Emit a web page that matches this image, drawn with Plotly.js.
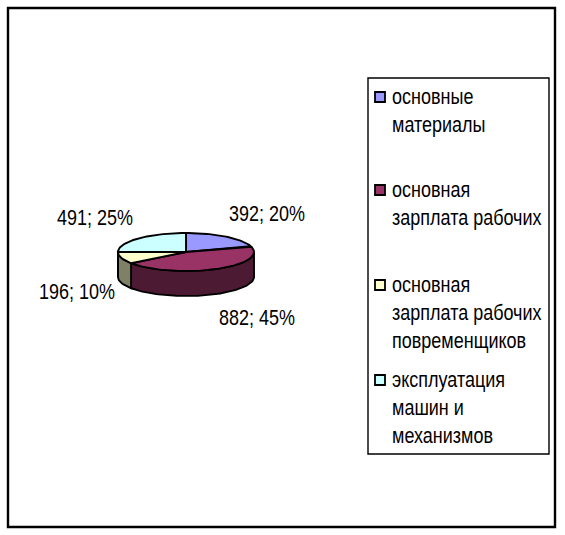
<!DOCTYPE html>
<html>
<head>
<meta charset="utf-8">
<script src="https://cdn.plot.ly/plotly-3.0.1.min.js"></script>
<style>
  html, body { margin: 0; padding: 0; background: #ffffff; }
  #chart { width: 565px; height: 535px; }
  /* tall, narrow lettering */
  #chart text.annotation-text {
    transform-box: fill-box;
    transform-origin: center;
    transform: scaleY(1.22);
  }
</style>
</head>
<body>
<div id="chart"></div>
<script>
// Cost structure: category names (wrapped as in the legend) and amounts
const categories = [
  'основные\nматериалы',
  'основная\nзарплата рабочих',
  'основная\nзарплата рабочих\nповременщиков',
  'эксплуатация\nмашин и\nмеханизмов'
];
const values = [392, 882, 196, 491];
const topColors = ['#9999FF', '#993366', '#FFFFCC', '#CCFFFF'];
const sideColors = ['#4C4C80', '#4D1A33', '#808066', '#668080'];

// Pie geometry (pixel space, y grows downward)
const pie = { cx: 186, cy: 252, a: 68, b: 19, depth: 25 };
// Label anchor points for each slice
const labelPos = [[267, 214], [257, 318], [77, 292], [95, 218]];
// Legend layout
const legendTop = [97, 190, 285, 380];
const legendLineStep = 28;

const FONT = '"Liberation Sans", Arial, sans-serif';
const total = values.reduce((s, v) => s + v, 0);

function pt(thetaDeg, dy) {
  const t = thetaDeg * Math.PI / 180;
  return [pie.cx + pie.a * Math.sin(t), pie.cy - pie.b * Math.cos(t) + (dy || 0)];
}
function arc(t1, t2, dy) {
  const n = Math.max(2, Math.ceil(Math.abs(t2 - t1) / 2));
  const pts = [];
  for (let i = 0; i <= n; i++) pts.push(pt(t1 + (t2 - t1) * i / n, dy));
  return pts;
}

const traces = [];
const annotations = [];
const outline = { color: '#000000', width: 1.9 };

// slice angle spans, clockwise from 12 o'clock
let acc = 0;
const spans = values.map(v => {
  const s = acc / total * 360;
  acc += v;
  return [s, acc / total * 360];
});

// outer walls on the front half (90°..270°)
spans.forEach(([s, e], i) => {
  const ws = Math.max(s, 90), we = Math.min(e, 270);
  if (we <= ws) return;
  const pts = arc(ws, we, 0).concat(arc(we, ws, pie.depth));
  pts.push(pts[0]);
  traces.push({
    type: 'scatter', mode: 'lines', fill: 'toself',
    x: pts.map(p => p[0]), y: pts.map(p => p[1]),
    fillcolor: sideColors[i], line: outline,
    hoverinfo: 'skip', showlegend: false
  });
});

// top faces
spans.forEach(([s, e], i) => {
  const pts = [[pie.cx, pie.cy]].concat(arc(s, e, 0));
  pts.push([pie.cx, pie.cy]);
  traces.push({
    type: 'scatter', mode: 'lines', fill: 'toself',
    x: pts.map(p => p[0]), y: pts.map(p => p[1]),
    fillcolor: topColors[i], line: outline,
    hoverinfo: 'skip', showlegend: false
  });
});

// data labels "value; percent"
values.forEach((v, i) => {
  annotations.push({
    x: labelPos[i][0], y: labelPos[i][1], xref: 'x', yref: 'y',
    text: v + '; ' + Math.round(v / total * 100) + '%',
    showarrow: false, xanchor: 'center', yanchor: 'middle',
    font: { family: FONT, size: 18, color: '#000000' }
  });
});

// legend: colour keys and wrapped names
traces.push({
  type: 'scatter', mode: 'markers',
  x: categories.map(() => 380), y: legendTop.slice(),
  marker: { symbol: 'square', size: 10, color: topColors,
            line: { color: '#000000', width: 1.8 } },
  hoverinfo: 'skip', showlegend: false
});
categories.forEach((c, i) => {
  c.split('\n').forEach((line, k) => {
    annotations.push({
      x: 390, y: legendTop[i] + k * legendLineStep, xref: 'x', yref: 'y',
      text: line, showarrow: false, xanchor: 'left', yanchor: 'middle',
      font: { family: FONT, size: 18, color: '#000000' }
    });
  });
});

const layout = {
  width: 565, height: 535,
  margin: { l: 0, r: 0, t: 0, b: 0 },
  paper_bgcolor: '#ffffff', plot_bgcolor: '#ffffff',
  xaxis: { range: [0, 565], visible: false, fixedrange: true },
  yaxis: { range: [535, 0], visible: false, fixedrange: true },
  showlegend: false,
  annotations: annotations,
  shapes: [
    { type: 'rect', xref: 'x', yref: 'y', x0: 8, y0: 8, x1: 555, y1: 527,
      line: { color: '#000000', width: 2.4 }, layer: 'below' },
    { type: 'rect', xref: 'x', yref: 'y', x0: 368, y0: 78, x1: 549, y1: 454,
      line: { color: '#000000', width: 1.4 }, layer: 'below' }
  ]
};

Plotly.newPlot('chart', traces, layout, { staticPlot: true, displayModeBar: false });
</script>
</body>
</html>
